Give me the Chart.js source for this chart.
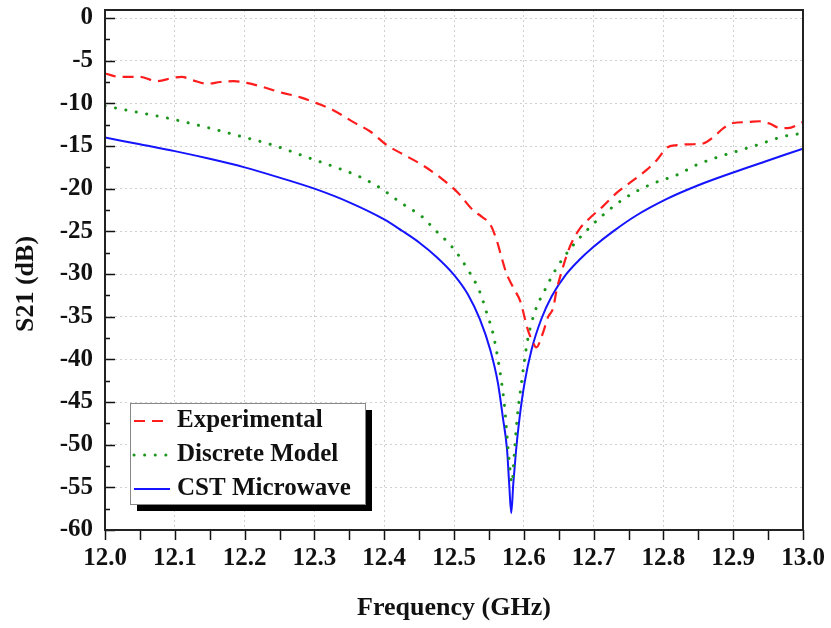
<!DOCTYPE html>
<html>
<head>
<meta charset="utf-8">
<script src="https://cdn.jsdelivr.net/npm/chart.js@4/dist/chart.umd.min.js"></script>
<style>
  html, body { margin: 0; padding: 0; background: #fff; }
  #wrap { width: 831px; height: 628px; }
</style>
</head>
<body>
<div id="wrap"><canvas id="chart" width="831" height="628"></canvas></div>
<script>
// values
const xTicks = [12.0, 12.1, 12.2, 12.3, 12.4, 12.5, 12.6, 12.7, 12.8, 12.9, 13.0];
const yTicks = [0, -5, -10, -15, -20, -25, -30, -35, -40, -45, -50, -55, -60];

const expFreq = [12.0, 12.021, 12.05, 12.074, 12.098, 12.11, 12.126, 12.146, 12.165, 12.184, 12.203,
  12.227, 12.251, 12.28, 12.304, 12.327, 12.356, 12.38, 12.404, 12.43, 12.458, 12.485, 12.506,
  12.527, 12.54, 12.552, 12.561, 12.568, 12.575, 12.585, 12.595, 12.606, 12.612, 12.618, 12.627,
  12.635, 12.642, 12.647, 12.655, 12.666, 12.681, 12.695, 12.713, 12.733, 12.757, 12.776, 12.791,
  12.805, 12.819, 12.838, 12.857, 12.871, 12.886, 12.9, 12.92, 12.938, 12.953, 12.967, 12.978, 13.0];
const expDb = [-6.5, -6.9, -6.9, -7.4, -7.0, -6.9, -7.3, -7.7, -7.5, -7.4, -7.6,
  -8.1, -8.7, -9.3, -10.0, -10.8, -12.2, -13.3, -14.9, -16.1, -17.4, -19.0, -20.5,
  -22.5, -23.3, -24.2, -26.0, -28.0, -29.9, -31.6, -33.2, -36.6, -37.8, -38.6, -37.0,
  -35.0, -34.0, -31.9, -29.5, -26.8, -24.6, -23.4, -22.1, -20.5, -19.0, -17.8, -16.6,
  -15.2, -14.9, -14.8, -14.7, -14.0, -12.9, -12.3, -12.2, -12.1, -12.4, -12.9, -12.9, -12.2];

const modelFreq = [12.0, 12.05, 12.088, 12.15, 12.196, 12.241, 12.289, 12.334, 12.365, 12.394,
  12.423, 12.456, 12.47, 12.499, 12.52, 12.537, 12.547, 12.556, 12.563, 12.569, 12.573, 12.576,
  12.579, 12.583, 12.586, 12.589, 12.592, 12.596, 12.6, 12.606, 12.616, 12.63, 12.647, 12.669,
  12.695, 12.728, 12.757, 12.788, 12.819, 12.848, 12.878, 12.91, 12.941, 12.971, 13.0];
const modelDb = [-10.3, -11.1, -11.7, -12.9, -13.9, -14.9, -16.3, -17.6, -18.6, -19.9,
  -21.6, -23.4, -24.6, -27.0, -29.5, -32.1, -34.6, -37.0, -40.0, -43.2, -46.0, -49.0,
  -51.8, -54.5, -51.5, -48.3, -45.7, -43.2, -40.7, -37.5, -34.4, -31.9, -29.3, -26.8,
  -24.5, -22.1, -20.5, -19.3, -18.4, -17.2, -16.3, -15.5, -14.7, -13.9, -13.5];

const cstFreq = [12.0, 12.05, 12.1, 12.15, 12.2, 12.25, 12.3, 12.35, 12.4, 12.425, 12.45, 12.475,
  12.5, 12.52, 12.537, 12.552, 12.563, 12.57, 12.576, 12.579, 12.582, 12.585, 12.589, 12.594,
  12.601, 12.611, 12.625, 12.64, 12.66, 12.68, 12.7, 12.728, 12.76, 12.805, 12.85, 12.9, 12.95, 13.0];
const cstDb = [-14.0, -14.8, -15.6, -16.5, -17.5, -18.7, -20.0, -21.6, -23.6, -24.9, -26.3, -28.0,
  -30.1, -32.4, -35.3, -38.9, -42.8, -46.8, -50.6, -54.5, -58.0, -54.5, -50.6, -46.8,
  -42.8, -38.9, -35.3, -32.6, -30.1, -28.3, -26.8, -25.0, -23.2, -21.2, -19.6, -18.1, -16.7, -15.3];

const seriesNames = ['Experimental', 'Discrete Model', 'CST Microwave'];

function pts(xs, ys) { return xs.map((x, i) => ({ x: x, y: ys[i] })); }

const FONT = '"Liberation Serif", "Times New Roman", serif';

// frame, inner/outer ticks, y title and shadowed legend
const decor = {
  id: 'decor',
  afterDraw(chart) {
    const ctx = chart.ctx;
    const a = chart.chartArea;
    const xs = chart.scales.x, ys = chart.scales.y;
    ctx.save();
    ctx.strokeStyle = '#111';
    ctx.lineWidth = 1.5;
    ctx.beginPath();
    for (let v = -60; v <= 0; v += 2.5) {
      const y = Math.round(ys.getPixelForValue(v)) + 0.5;
      const len = (v % 5 === 0) ? 10 : 5;
      ctx.moveTo(a.left, y); ctx.lineTo(a.left + len, y);
    }
    for (let i = 0; i <= 20; i++) {
      const x = Math.round(xs.getPixelForValue(12 + i * 0.05)) + 0.5;
      ctx.moveTo(x, a.bottom); ctx.lineTo(x, a.bottom + 10);
    }
    ctx.stroke();
    ctx.lineWidth = 2;
    ctx.strokeStyle = '#222';
    ctx.strokeRect(a.left, a.top, a.right - a.left, a.bottom - a.top);

    // y axis title
    ctx.fillStyle = '#111';
    ctx.font = 'bold 26px ' + FONT;
    ctx.textAlign = 'center';
    ctx.textBaseline = 'middle';
    ctx.translate(26, 284);
    ctx.rotate(-Math.PI / 2);
    ctx.fillText('S21 (dB)', 0, 0);
    ctx.setTransform(1, 0, 0, 1, 0, 0);

    // legend
    const bx = 130, by = 403, bw = 235, bh = 101;
    ctx.fillStyle = '#000';
    ctx.fillRect(bx + 7, by + 7, bw, bh);
    ctx.fillStyle = '#fff';
    ctx.fillRect(bx, by, bw, bh);
    ctx.strokeStyle = '#888';
    ctx.lineWidth = 1;
    ctx.strokeRect(bx + 0.5, by + 0.5, bw, bh);
    const rows = [421, 455, 489];
    chart.data.datasets.forEach((ds, i) => {
      const y = rows[i];
      ctx.strokeStyle = ds.borderColor;
      ctx.lineWidth = ds.borderWidth;
      ctx.lineCap = ds.borderCapStyle || 'butt';
      ctx.setLineDash(ds.borderDash || []);
      ctx.beginPath();
      ctx.moveTo(134, y); ctx.lineTo(170, y);
      ctx.stroke();
      ctx.setLineDash([]);
      ctx.fillStyle = '#111';
      ctx.font = 'bold 25px ' + FONT;
      ctx.textAlign = 'left';
      ctx.textBaseline = 'middle';
      ctx.fillText(ds.label, 177, y);
    });
    ctx.restore();
  }
};

new Chart(document.getElementById('chart'), {
  type: 'line',
  data: {
    datasets: [
      {
        label: seriesNames[0],
        data: pts(expFreq, expDb),
        borderColor: '#ff1c1c',
        borderWidth: 2.2,
        borderDash: [11, 7],
        pointRadius: 0,
        cubicInterpolationMode: 'monotone'
      },
      {
        label: seriesNames[1],
        data: pts(modelFreq, modelDb),
        borderColor: '#1d961d',
        borderWidth: 3,
        borderDash: [0.1, 10.5],
        borderCapStyle: 'round',
        pointRadius: 0,
        cubicInterpolationMode: 'monotone'
      },
      {
        label: seriesNames[2],
        data: pts(cstFreq, cstDb),
        borderColor: '#1414ff',
        borderWidth: 2,
        pointRadius: 0,
        cubicInterpolationMode: 'monotone'
      }
    ]
  },
  options: {
    responsive: false,
    animation: false,
    layout: { padding: { left: 0, right: 28, top: 10, bottom: 0 } },
    plugins: { legend: { display: false }, tooltip: { enabled: false } },
    scales: {
      x: {
        type: 'linear',
        min: 12.0,
        max: 13.0,
        afterFit(s) { s.height = 98; s.paddingLeft = 0; s.paddingRight = 0; },
        afterBuildTicks(s) { s.ticks = xTicks.map(v => ({ value: v })); },
        ticks: {
          color: '#111',
          padding: 14,
          maxRotation: 0,
          font: { family: FONT, size: 25, weight: 'bold' },
          callback: v => v.toFixed(1)
        },
        grid: {
          color: '#d0d0d0',
          lineWidth: 1,
          drawTicks: false
        },
        border: { display: false, dash: [2, 3] },
        title: {
          display: true,
          text: 'Frequency (GHz)',
          color: '#111',
          font: { family: FONT, size: 26, weight: 'bold' },
          padding: { top: 0, bottom: 4 }
        }
      },
      y: {
        type: 'linear',
        min: -60,
        max: 0.94,
        afterFit(s) { s.width = 105; s.paddingTop = 0; s.paddingBottom = 0; },
        afterBuildTicks(s) { s.ticks = yTicks.map(v => ({ value: v })); },
        ticks: {
          color: '#111',
          padding: 12,
          font: { family: FONT, size: 25, weight: 'bold' },
          callback: v => String(v)
        },
        grid: {
          color: '#d0d0d0',
          lineWidth: 1,
          drawTicks: false
        },
        border: { display: false, dash: [2, 3] }
      }
    }
  },
  plugins: [decor]
});
</script>
</body>
</html>
